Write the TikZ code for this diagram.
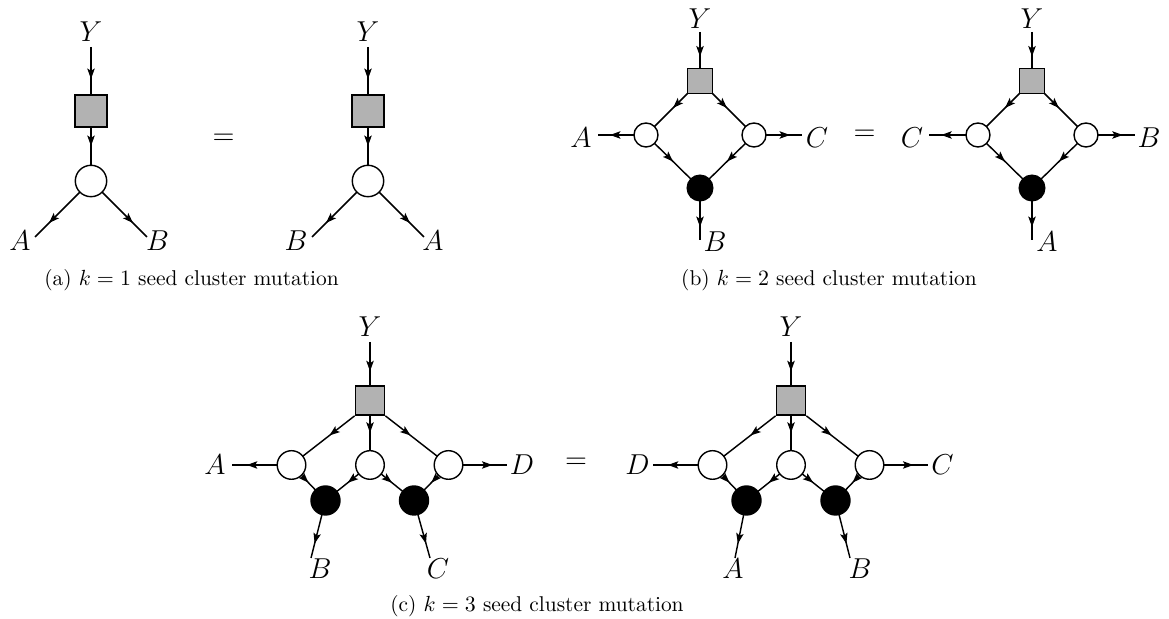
\documentclass[tikz,border=0pt]{standalone}
\usetikzlibrary{arrows.meta,decorations.markings}
\pgfdeclarelayer{bg}
\pgfsetlayers{bg,main}
\tikzset{
  lbl/.style={inner sep=0pt, font=\fontsize{14.8}{16}\selectfont},
  captxt/.style={inner sep=0pt, font=\fontsize{10.7}{13}\selectfont},
  wn/.style={circle, draw, fill=white, line width=0.7pt, inner sep=0pt, minimum size=#1},
  bn/.style={circle, draw, fill=black, line width=0.7pt, inner sep=0pt, minimum size=#1},
  sqn/.style={rectangle, draw, fill=black!30, line width=0.7pt, inner sep=0pt, minimum size=#1},
  ln/.style={line width=0.72pt, postaction={decorate},
    decoration={markings, mark=at position #1 with {\arrow{Stealth[length=5.2pt,width=3.7pt,inset=1.1pt]}}}},
  ln/.default=0.5
}
\begin{document}
\begin{tikzpicture}[x=0.5pt,y=-0.5pt]
\useasboundingbox (0,0) rectangle (1169,619);

% ===== (a) =====
\coordinate (a1y) at (91,47);
\node[lbl] (a1Y) at (91,31.5) {$Y$};
\node[sqn=16pt] (a1s) at (91,111) {};
\node[wn=15.7pt] (a1w) at (91,181) {};
\coordinate (a1eA) at (35,237);
\coordinate (a1eB) at (147,237);
\node[lbl] (a1A) at (20,240.5) {$A$};
\node[lbl] (a1B) at (157.5,240.5) {$B$};
\node[lbl] (aeq) at (223.5,139) {$=$};

\coordinate (a2y) at (368,47);
\node[lbl] (a2Y) at (368,31.5) {$Y$};
\node[sqn=16pt] (a2s) at (368,111) {};
\node[wn=15.7pt] (a2w) at (368,181) {};
\coordinate (a2eB) at (312,237);
\coordinate (a2eA) at (424,237);
\node[lbl] (a2B) at (296,240.5) {$B$};
\node[lbl] (a2A) at (433,240.5) {$A$};

\node[captxt] (capa) at (191.5,280) {(a) $k=1$ seed cluster mutation};

% ===== (b) =====
\coordinate (b1y) at (700,32);
\node[lbl] (b1Y) at (700,19) {$Y$};
\node[sqn=12.5pt] (b1s) at (700,81) {};
\node[wn=12pt] (b1l) at (646,135) {};
\node[wn=12pt] (b1r) at (754,135) {};
\node[bn=12.8pt] (b1k) at (700,188) {};
\coordinate (b1eA) at (598,135);
\coordinate (b1eC) at (802,135);
\coordinate (b1eB) at (700,240);
\node[lbl] (b1A) at (581,138) {$A$};
\node[lbl] (b1C) at (817,138) {$C$};
\node[lbl] (b1B) at (715,241.5) {$B$};
\node[lbl] (beq) at (864.5,135) {$=$};

\coordinate (b2y) at (1032,32);
\node[lbl] (b2Y) at (1032,19) {$Y$};
\node[sqn=12.5pt] (b2s) at (1032,81) {};
\node[wn=12pt] (b2l) at (978,135) {};
\node[wn=12pt] (b2r) at (1086,135) {};
\node[bn=12.8pt] (b2k) at (1032,188) {};
\coordinate (b2eC) at (929,135);
\coordinate (b2eB) at (1135,135);
\coordinate (b2eA) at (1032,240);
\node[lbl] (b2C) at (912,138) {$C$};
\node[lbl] (b2B) at (1149,138) {$B$};
\node[lbl] (b2A) at (1047,241.5) {$A$};

\node[captxt] (capb) at (829,280) {(b) $k=2$ seed cluster mutation};

% ===== (c) =====
\coordinate (c1y) at (370,342);
\node[lbl] (c1Y) at (370,327) {$Y$};
\node[sqn=14.65pt] (c1s) at (370,400.5) {};
\node[wn=14.3pt] (c1w1) at (291.5,465) {};
\node[wn=14.3pt] (c1w2) at (370,465) {};
\node[wn=14.3pt] (c1w3) at (448.5,465) {};
\node[bn=14.5pt] (c1b1) at (325.5,500.5) {};
\node[bn=14.5pt] (c1b2) at (414,500.5) {};
\coordinate (c1eA) at (232,465);
\coordinate (c1eD) at (507,465);
\coordinate (c1eB) at (311,558);
\coordinate (c1eC) at (430,558);
\node[lbl] (c1A) at (215,465) {$A$};
\node[lbl] (c1D) at (522,465) {$D$};
\node[lbl] (c1B) at (320,569) {$B$};
\node[lbl] (c1C) at (438,569) {$C$};
\node[lbl] (ceq) at (576,463.5) {$=$};

\coordinate (c2y) at (791,342);
\node[lbl] (c2Y) at (791,327) {$Y$};
\node[sqn=14.65pt] (c2s) at (791,400.5) {};
\node[wn=14.3pt] (c2w1) at (712.5,465) {};
\node[wn=14.3pt] (c2w2) at (791,465) {};
\node[wn=14.3pt] (c2w3) at (869.5,465) {};
\node[bn=14.5pt] (c2b1) at (746.5,500.5) {};
\node[bn=14.5pt] (c2b2) at (835.5,500.5) {};
\coordinate (c2eD) at (653,465);
\coordinate (c2eC) at (928,465);
\coordinate (c2eA) at (735,558);
\coordinate (c2eB) at (850,558);
\node[lbl] (c2D) at (637.5,465) {$D$};
\node[lbl] (c2C) at (942.5,465) {$C$};
\node[lbl] (c2A) at (733,569) {$A$};
\node[lbl] (c2B) at (860,569) {$B$};

\node[captxt] (capc) at (537,606) {(c) $k=3$ seed cluster mutation};

% ===== connectors =====
\begin{pgfonlayer}{bg}
  % (a)
  \draw[ln] (a1y) -- (a1s.center);
  \draw[ln] (a1s.center) -- (a1w.center);
  \draw[ln=0.75] (a1w.center) -- (a1eA);
  \draw[ln=0.75] (a1w.center) -- (a1eB);
  \draw[ln] (a2y) -- (a2s.center);
  \draw[ln] (a2s.center) -- (a2w.center);
  \draw[ln=0.75] (a2w.center) -- (a2eB);
  \draw[ln=0.75] (a2w.center) -- (a2eA);
  % (b)
  \draw[ln] (b1y) -- (b1s.center);
  \draw[ln] (b1s.center) -- (b1l.center);
  \draw[ln] (b1s.center) -- (b1r.center);
  \draw[ln] (b1l.center) -- (b1k.center);
  \draw[ln] (b1r.center) -- (b1k.center);
  \draw[ln=0.75] (b1l.center) -- (b1eA);
  \draw[ln=0.75] (b1r.center) -- (b1eC);
  \draw[ln=0.75] (b1k.center) -- (b1eB);
  \draw[ln] (b2y) -- (b2s.center);
  \draw[ln] (b2s.center) -- (b2l.center);
  \draw[ln] (b2s.center) -- (b2r.center);
  \draw[ln] (b2l.center) -- (b2k.center);
  \draw[ln] (b2r.center) -- (b2k.center);
  \draw[ln=0.75] (b2l.center) -- (b2eC);
  \draw[ln=0.75] (b2r.center) -- (b2eB);
  \draw[ln=0.75] (b2k.center) -- (b2eA);
  % (c)
  \draw[ln] (c1y) -- (c1s.center);
  \draw[ln=0.4] (c1s.south west) -- (c1w1.center);
  \draw[ln] (c1s.center) -- (c1w2.center);
  \draw[ln=0.4] (c1s.south east) -- (c1w3.center);
  \draw[ln] (c1w1.center) -- (c1b1.center);
  \draw[ln] (c1w2.center) -- (c1b1.center);
  \draw[ln] (c1w2.center) -- (c1b2.center);
  \draw[ln] (c1w3.center) -- (c1b2.center);
  \draw[ln=0.75] (c1w1.center) -- (c1eA);
  \draw[ln=0.75] (c1w3.center) -- (c1eD);
  \draw[ln=0.75] (c1b1.center) -- (c1eB);
  \draw[ln=0.75] (c1b2.center) -- (c1eC);
  \draw[ln] (c2y) -- (c2s.center);
  \draw[ln=0.4] (c2s.south west) -- (c2w1.center);
  \draw[ln] (c2s.center) -- (c2w2.center);
  \draw[ln=0.4] (c2s.south east) -- (c2w3.center);
  \draw[ln] (c2w1.center) -- (c2b1.center);
  \draw[ln] (c2w2.center) -- (c2b1.center);
  \draw[ln] (c2w2.center) -- (c2b2.center);
  \draw[ln] (c2w3.center) -- (c2b2.center);
  \draw[ln=0.75] (c2w1.center) -- (c2eD);
  \draw[ln=0.75] (c2w3.center) -- (c2eC);
  \draw[ln=0.75] (c2b1.center) -- (c2eA);
  \draw[ln=0.75] (c2b2.center) -- (c2eB);
\end{pgfonlayer}
\end{tikzpicture}
\end{document}
